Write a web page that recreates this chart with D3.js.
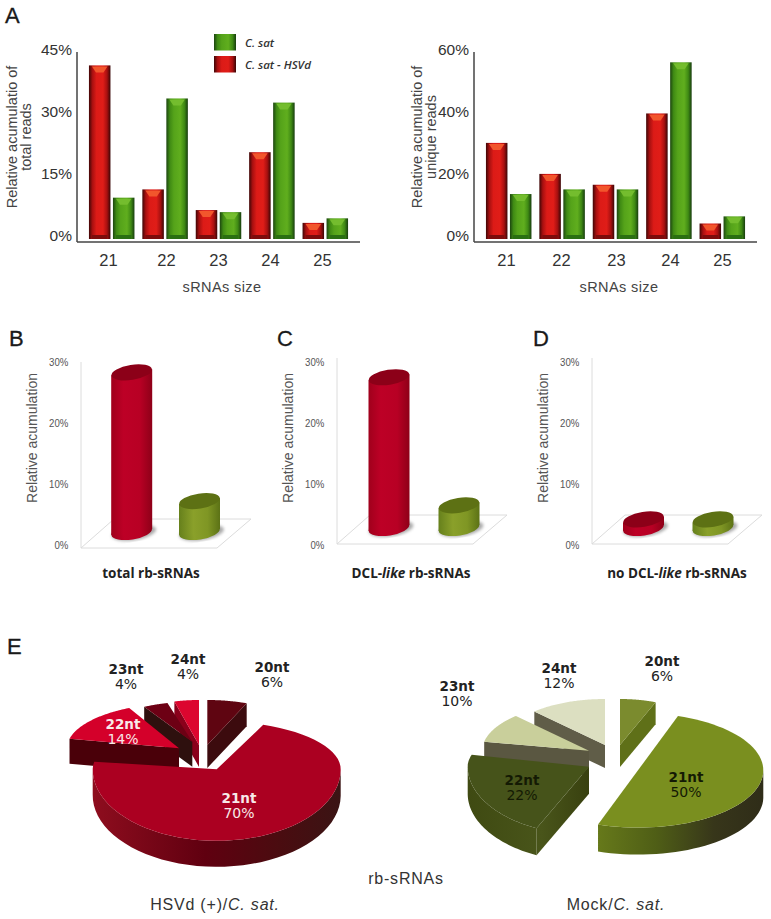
<!DOCTYPE html>
<html>
<head>
<meta charset="utf-8">
<script src="https://cdn.jsdelivr.net/npm/d3@7"></script>
<style>
  body { margin: 0; background: #fff; }
  svg { display: block; }
  text { font-family: "Liberation Sans", Arial, sans-serif; fill: #333; }
  .panel { font-size: 22px; fill: #1a1a1a; stroke: #1a1a1a; stroke-width: .3px; }
  .tickA text { font-size: 15.5px; fill: #333; }
  .tickB text { font-size: 11.5px; fill: #555; }
  .axis-title { font-size: 14.5px; fill: #444; }
  .size-title { font-size: 14.5px; letter-spacing: .4px; fill: #444; }
  .cyl-title { font-size: 14px; fill: #555; }
  .cat { font-family: "Open Sans", sans-serif; font-size: 13.5px; font-weight: 700; fill: #222; }
  .legend { font-family: "Open Sans", sans-serif; font-size: 11.5px; font-style: italic; font-weight: 600; fill: #333; }
  .nt { font-family: "DejaVu Sans", sans-serif; font-size: 13.5px; font-weight: 700; text-anchor: middle; }
  .pct { font-family: "DejaVu Sans", sans-serif; font-size: 14px; text-anchor: middle; }
  .pie-title { font-size: 16px; letter-spacing: .8px; text-anchor: middle; fill: #333; }
</style>
</head>
<body>
<div id="chart"></div>
<script>
// Panel A values
const sizes = ["21", "22", "23", "24", "25"];
const totalRed = [42, 12, 7, 21, 3.9];
const totalGreen = [10, 34, 6.5, 33, 5];
const uniqueRed = [31, 21, 17.5, 40.5, 5];
const uniqueGreen = [14.5, 16, 16, 57, 7.3];
const totalTicks = [0, 15, 30, 45];
const uniqueTicks = [0, 20, 40, 60];

// Panels B, C, D
const cylTicks = [0, 10, 20, 30];
const totalRb = [28.3, 7.2];
const dclRb = [27.5, 6.5];
const noDclRb = [4.2, 4.2];

// Panel E
const ntLabels = ["20nt", "21nt", "22nt", "23nt", "24nt"];
const hsvdPie = [6, 70, 14, 4, 4];
const mockPie = [6, 50, 22, 10, 12];

const svg = d3.select("#chart").append("svg")
    .attr("width", 771)
    .attr("height", 919);
const defs = svg.append("defs");

function hGradient(id, stops, attrs) {
    const g = defs.append("linearGradient").attr("id", id);
    Object.entries(attrs || {}).forEach(([k, v]) => g.attr(k, v));
    stops.forEach(s => g.append("stop").attr("offset", s[0]).attr("stop-color", s[1]));
}

hGradient("barRed", [[0, "#3f0606"], [.16, "#a81010"], [.35, "#dc1b17"], [.65, "#e01d18"], [.84, "#a81010"], [1, "#3a0606"]]);
hGradient("barGreen", [[0, "#1c4510"], [.16, "#3f8a14"], [.35, "#55a31a"], [.65, "#60ae1e"], [.84, "#3f8a14"], [1, "#173d0e"]]);
hGradient("cylRed", [[0, "#a0001c"], [.3, "#bd0026"], [.7, "#b80024"], [1, "#8e0018"]]);
hGradient("cylGreen", [[0, "#66801c"], [.35, "#8aa02a"], [.7, "#7f9624"], [1, "#5c7216"]]);
hGradient("wallRed", [[0, "#8e0d1e"], [.45, "#600010"], [.75, "#4a0c10"], [1, "#3a1414"]],
    { gradientUnits: "userSpaceOnUse", x1: 93, x2: 342, y1: 0, y2: 0 });
hGradient("wallGreen", [[0, "#66791a"], [.35, "#4f5e16"], [.7, "#37361a"], [1, "#2f2c18"]],
    { gradientUnits: "userSpaceOnUse", x1: 598, x2: 764, y1: 0, y2: 0 });
hGradient("wallDark", [[0, "#3f4a12"], [.6, "#49551a"], [1, "#38400f"]],
    { gradientUnits: "userSpaceOnUse", x1: 468, x2: 590, y1: 0, y2: 0 });
defs.append("filter").attr("id", "soft").append("feGaussianBlur").attr("stdDeviation", 1.6);

function barPanel(x0, x1, red, green, ticks, maxV, label1, label2, yTitleX, labelRange) {
    const g = svg.append("g");
    const y = d3.scaleLinear().domain([0, maxV]).range([239, 53]);
    const xBand = d3.scaleBand().domain(sizes).range([x0, x1]).paddingInner(0).paddingOuter(0);
    const barW = 21.5;
    const gap = 2.5;
    const rows = [];
    sizes.forEach((s, i) => {
        rows.push({ s: s, v: red[i], off: -barW - gap / 2, fill: "barRed", cap: "#f2562c", foot: "#7c0c0c" });
        rows.push({ s: s, v: green[i], off: gap / 2, fill: "barGreen", cap: "#74bd2e", foot: "#2a6f12" });
    });
    const cx = d => xBand(d.s) + xBand.bandwidth() / 2 + d.off;

    g.selectAll("rect.bar").data(rows).enter().append("rect")
        .attr("class", "bar")
        .attr("x", cx)
        .attr("y", d => y(d.v))
        .attr("width", barW)
        .attr("height", d => y(0) - y(d.v))
        .attr("fill", d => "url(#" + d.fill + ")");
    // bevel on top of each bar
    g.selectAll("path.cap").data(rows).enter().append("path")
        .attr("class", "cap")
        .attr("d", d => {
            const l = cx(d), t = y(d.v) + 1;
            return `M${l + 3},${t}L${l + barW - 3},${t}L${l + barW - 7},${t + 6}L${l + 7},${t + 6}Z`;
        })
        .attr("fill", d => d.cap);
    g.selectAll("rect.foot").data(rows).enter().append("rect")
        .attr("class", "foot")
        .attr("x", d => cx(d) + 3)
        .attr("y", y(0) - 4)
        .attr("width", barW - 6)
        .attr("height", 4)
        .attr("fill", d => d.foot);

    const axisX = x0 - 8;
    g.append("line").attr("x1", axisX).attr("x2", axisX).attr("y1", 52).attr("y2", 242)
        .attr("stroke", "#444").attr("stroke-width", 1.5);
    g.append("line").attr("x1", axisX).attr("x2", axisX + 283).attr("y1", 242).attr("y2", 242)
        .attr("stroke", "#444").attr("stroke-width", 1.5);

    const yAxis = g.append("g").attr("class", "tickA")
        .attr("transform", `translate(${axisX},-3)`)
        .call(d3.axisLeft(y).tickValues(ticks).tickSize(0).tickPadding(5).tickFormat(d => d + "%"));
    yAxis.select(".domain").remove();

    const xLabels = d3.scaleOrdinal().domain(sizes).range(labelRange);
    const xAxis = g.append("g").attr("class", "tickA")
        .attr("transform", "translate(0,250)")
        .call(d3.axisBottom(xLabels).tickSize(0).tickPadding(4));
    xAxis.select(".domain").remove();
    xAxis.selectAll("text").style("font-size", "16.5px");

    g.append("text").attr("class", "size-title")
        .attr("x", x0 + 137).attr("y", 292).attr("text-anchor", "middle").text("sRNAs size");
    [label1, label2].forEach((t, i) => {
        g.append("text").attr("class", "axis-title")
            .attr("transform", `translate(${yTitleX + i * 14},137) rotate(-90)`)
            .attr("text-anchor", "middle")
            .text(t);
    });
}

barPanel(85, 352, totalRed, totalGreen, totalTicks, 45, "Relative acumulatio of", "total reads", 17,
    [108, 166, 218, 270, 322]);
barPanel(482, 749, uniqueRed, uniqueGreen, uniqueTicks, 60, "Relative acumulatio of", "unique reads", 422,
    [506, 561, 616, 670, 722]);

// Legend
const legendKeys = ["C. sat", "C. sat - HSVd"];
const legendFill = ["barGreen", "barRed"];
const legendY = d3.scalePoint().domain(legendKeys).range([34, 56]);
svg.selectAll("rect.key").data(legendKeys).enter().append("rect")
    .attr("class", "key")
    .attr("x", 214)
    .attr("y", d => legendY(d))
    .attr("width", 22)
    .attr("height", 16.5)
    .attr("fill", (d, i) => "url(#" + legendFill[i] + ")");
svg.selectAll("text.legend").data(legendKeys).enter().append("text")
    .attr("class", "legend")
    .attr("x", 245)
    .attr("y", d => legendY(d) + 13)
    .text(d => d);

// Cylinder panels
function cylPanel(o) {
    const g = svg.append("g");
    const y = d3.scaleLinear().domain([0, 30]).range([545, 362]);
    const x = d3.scalePoint().domain(["HSVd", "Mock"]).range(o.centres);
    const rx = 20.5, ry = 7.5;

    g.append("path")
        .attr("d", `M${o.axisX},${o.axisTop}L${o.axisX},${o.floorY}L${o.axisX + 136},${o.floorY}L${o.axisX + 170},${o.floorY - 29}L${o.axisX + 33},${o.floorY - 29}L${o.axisX},${o.floorY}`)
        .attr("fill", "none").attr("stroke", "#dcdcdc").attr("stroke-width", 1);

    const axis = g.append("g").attr("class", "tickB")
        .attr("transform", `translate(${o.axisX},0)`)
        .call(d3.axisLeft(y).tickValues(cylTicks).tickSize(0).tickPadding(15).tickFormat(d => d + "%"));
    axis.select(".domain").remove();
    axis.selectAll("text").attr("transform", "scale(.84,1)");

    g.append("text").attr("class", "cyl-title")
        .attr("transform", `translate(${o.axisX - 44},438) rotate(-90)`)
        .attr("text-anchor", "middle")
        .text("Relative acumulation");

    const rows = [
        { k: "HSVd", v: o.values[0], body: "url(#cylRed)", top: "#8c0018" },
        { k: "Mock", v: o.values[1], body: "url(#cylGreen)", top: "#5d7114" }
    ];
    const tilt = -9;
    rows.forEach(d => {
        const cx = x(d.k), ty = y(d.v), by = o.baseY;
        g.append("ellipse").attr("cx", cx + 2).attr("cy", by + 1).attr("rx", rx + 2).attr("ry", ry)
            .attr("transform", `rotate(${tilt},${cx},${by})`)
            .attr("fill", "#aaa").attr("filter", "url(#soft)");
        g.append("ellipse").attr("cx", cx).attr("cy", by).attr("rx", rx).attr("ry", ry)
            .attr("transform", `rotate(${tilt},${cx},${by})`)
            .attr("fill", d.body);
        g.append("path")
            .attr("d", `M${cx - rx},${ty + 3}L${cx + rx},${ty - 3}L${cx + rx},${by - 3}L${cx - rx},${by + 3}Z`)
            .attr("fill", d.body);
        g.append("ellipse").attr("cx", cx).attr("cy", ty).attr("rx", rx).attr("ry", ry)
            .attr("transform", `rotate(${tilt},${cx},${ty})`)
            .attr("fill", d.top);
    });

    const label = g.append("text").attr("class", "cat")
        .attr("x", o.labelX).attr("y", 578).attr("text-anchor", "middle");
    o.label.forEach(p => {
        label.append("tspan").style("font-style", p[1] ? "italic" : "normal").text(p[0]);
    });
}

cylPanel({ axisX: 81, axisTop: 362, floorY: 548, baseY: 532, centres: [131.7, 199.5], values: totalRb, labelX: 151, label: [["total rb-sRNAs"]] });
cylPanel({ axisX: 337, axisTop: 358, floorY: 544, baseY: 528, centres: [389, 459], values: dclRb, labelX: 411, label: [["DCL-"], ["like", 1], [" rb-sRNAs"]] });
cylPanel({ axisX: 592, axisTop: 358, floorY: 544, baseY: 528, centres: [643.5, 713], values: noDclRb, labelX: 677, label: [["no DCL-"], ["like", 1], [" rb-sRNAs"]] });

// 3D pies, angles come from d3.pie, every slice has its own apex and radii
const pieGen = d3.pie().sort(null);

function drawSlice(g, arc, s) {
    const ryB = s.ryB || s.ry;
    const rot = s.rot || 0;
    const pt = t => {
        const a = t + rot * Math.PI / 180;
        const c = Math.cos(a);
        return [s.x + s.rx * Math.sin(a), s.y - (c > 0 ? s.ry : ryB) * c];
    };
    const n = 60;
    const outline = [[s.x, s.y]];
    d3.range(n + 1).forEach(i => {
        outline.push(pt(arc.startAngle + (arc.endAngle - arc.startAngle) * i / n));
    });
    // walls: only edges running right to left in the clockwise outline face us
    const rim = [];
    outline.forEach((p, i) => {
        const q = outline[(i + 1) % outline.length];
        if (q[0] >= p[0] - 0.001) return;
        if (i === 0 || i === outline.length - 1) {
            g.append("path")
                .attr("d", `M${p[0]},${p[1]}L${q[0]},${q[1]}L${q[0]},${q[1] + s.depth}L${p[0]},${p[1] + s.depth}Z`)
                .attr("fill", s.wall);
        } else {
            if (!rim.length) rim.push(p);
            rim.push(q);
        }
    });
    if (rim.length) {
        const lower = rim.slice().reverse().map(p => [p[0], p[1] + s.depth]);
        g.append("path")
            .attr("d", d3.line()(rim.concat(lower)) + "Z")
            .attr("fill", s.wall);
    }
    g.append("path")
        .attr("d", d3.line()(outline) + "Z")
        .attr("fill", s.top);
}

const hsvdLayout = {
    "21nt": { x: 216.7, y: 769.3, rx: 124, ry: 48, ryB: 71.5, depth: 26, top: "#ab0021", wall: "url(#wallRed)" },
    "20nt": { x: 207.3, y: 745, rx: 105, ry: 45, depth: 23, top: "#5f0511", wall: "#3c0b0e" },
    "22nt": { x: 179, y: 748.3, rx: 112, ry: 45, rot: 3, depth: 25, top: "#d4002a", wall: "#4a0009" },
    "23nt": { x: 192.3, y: 741.7, rx: 98, ry: 40, depth: 25, top: "#6d0014", wall: "#2e100e" },
    "24nt": { x: 199, y: 745, rx: 97, ry: 45, depth: 22, top: "#dc062f", wall: "#8a001b" }
};
const mockLayout = {
    "21nt": { x: 638, y: 770.3, rx: 125.3, ry: 57.3, rot: -3, depth: 27, top: "#7a8f1f", wall: "url(#wallGreen)" },
    "20nt": { x: 620, y: 745, rx: 96.7, ry: 46, depth: 22, top: "#7b8b2e", wall: "#5f7018" },
    "22nt": { x: 589, y: 766.7, rx: 121.3, ry: 46.7, ryB: 68.3, rot: 4, depth: 27, top: "#46531a", wall: "url(#wallDark)" },
    "23nt": { x: 589, y: 750.7, rx: 106.7, ry: 47.7, depth: 25, top: "#c9cf9b", wall: "#5a5741" },
    "24nt": { x: 605, y: 745, rx: 103.3, ry: 46, depth: 23, top: "#dcdfc1", wall: "#605d48" }
};

function drawPie(values, layout, order) {
    const g = svg.append("g");
    const arcs = pieGen(values);
    order.forEach(k => {
        drawSlice(g, arcs[ntLabels.indexOf(k)], layout[k]);
    });
}

drawPie(hsvdPie, hsvdLayout, ["24nt", "23nt", "22nt", "20nt", "21nt"]);
drawPie(mockPie, mockLayout, ["21nt", "20nt", "24nt", "23nt", "22nt"]);

function pieLabels(values, spots) {
    ntLabels.forEach((k, i) => {
        const p = spots[k];
        const col = p[2] || "#222";
        svg.append("text").attr("class", "nt").attr("x", p[0]).attr("y", p[1]).style("fill", col).text(k);
        svg.append("text").attr("class", "pct").attr("x", p[0]).attr("y", p[1] + 15).style("fill", col).text(values[i] + "%");
    });
}
pieLabels(hsvdPie, {
    "20nt": [272, 672], "21nt": [239, 803, "#f8e8e8"], "22nt": [123, 729, "#f8e8e8"],
    "23nt": [126, 674], "24nt": [188, 664]
});
pieLabels(mockPie, {
    "20nt": [662, 666], "21nt": [686, 782, "#141a04"], "22nt": [522, 785, "#141a04"],
    "23nt": [457, 691], "24nt": [559, 673]
});

svg.append("text").attr("class", "pie-title").attr("x", 406).attr("y", 884).text("rb-sRNAs");
const leftTitle = svg.append("text").attr("class", "pie-title").attr("x", 215).attr("y", 910);
leftTitle.append("tspan").text("HSVd (+)/");
leftTitle.append("tspan").style("font-style", "italic").text("C. sat.");
const rightTitle = svg.append("text").attr("class", "pie-title").attr("x", 616).attr("y", 910);
rightTitle.append("tspan").text("Mock/");
rightTitle.append("tspan").style("font-style", "italic").text("C. sat.");

// Panel letters
const panels = [["A", 5, 23], ["B", 9, 346], ["C", 277, 346], ["D", 533, 346], ["E", 7, 654]];
svg.selectAll("text.panel").data(panels).enter().append("text")
    .attr("class", "panel")
    .attr("x", d => d[1])
    .attr("y", d => d[2])
    .text(d => d[0]);
</script>
</body>
</html>
